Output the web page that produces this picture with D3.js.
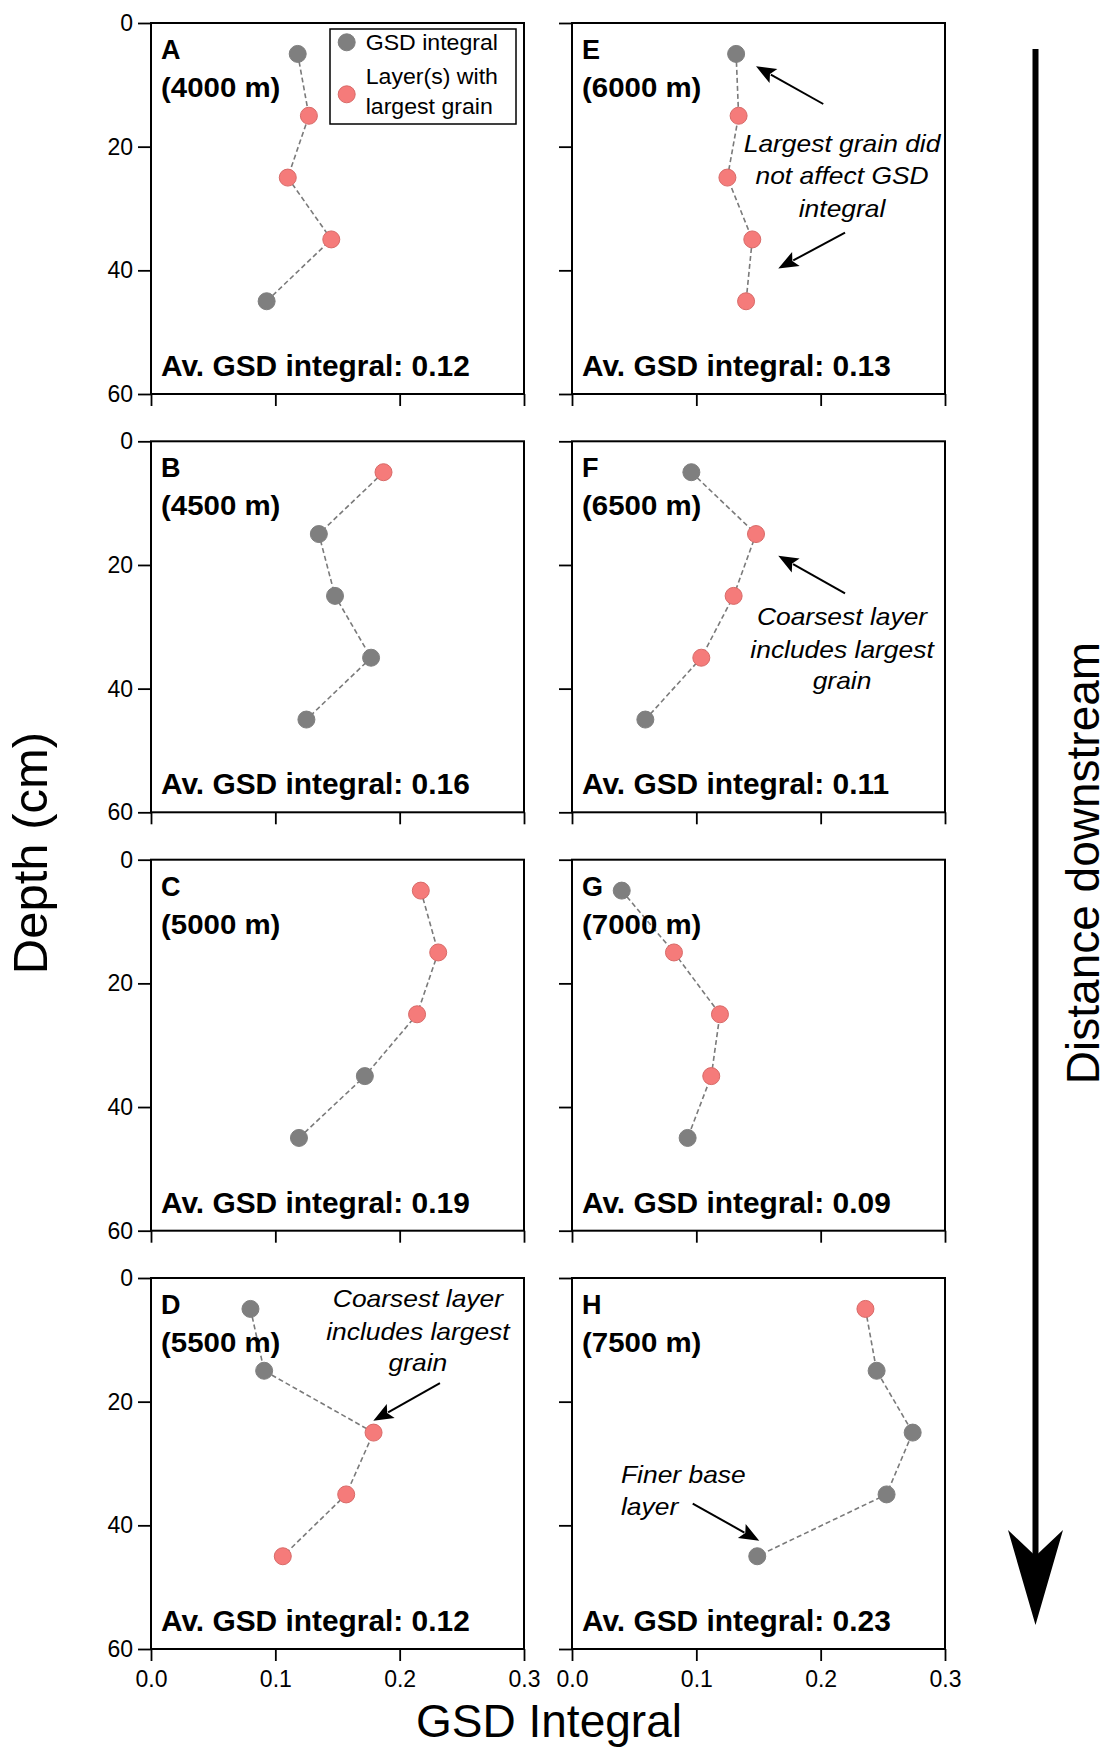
<!DOCTYPE html>
<html><head><meta charset="utf-8">
<script src="https://cdn.jsdelivr.net/npm/d3@7"></script>
<style>
body{margin:0;background:#fff}
svg text{font-family:"Liberation Sans",Arial,Helvetica,sans-serif;fill:#000}
</style>
</head><body>
<svg id="chart" width="1110" height="1749"></svg>
<script>
// ---------- DATA ----------
const panelIds   = ["A","B","C","D","E","F","G","H"];
const distances  = ["(4000 m)","(4500 m)","(5000 m)","(5500 m)","(6000 m)","(6500 m)","(7000 m)","(7500 m)"];
const depths     = [5,15,25,35,45];
const gsdA = [0.118,0.127,0.110,0.145,0.093];
const gsdB = [0.187,0.135,0.148,0.177,0.125];
const gsdC = [0.217,0.231,0.214,0.172,0.119];
const gsdD = [0.080,0.091,0.179,0.157,0.106];
const gsdE = [0.132,0.134,0.125,0.145,0.140];
const gsdF = [0.096,0.148,0.130,0.104,0.059];
const gsdG = [0.040,0.082,0.119,0.112,0.093];
const gsdH = [0.236,0.245,0.274,0.253,0.149];
const largestA = [0,1,1,1,0];
const largestB = [1,0,0,0,0];
const largestC = [1,1,1,0,0];
const largestD = [0,0,1,1,1];
const largestE = [0,1,1,1,1];
const largestF = [0,1,1,1,0];
const largestG = [0,1,1,1,0];
const largestH = [1,0,0,0,0];
const avgGSD = ["0.12","0.16","0.19","0.12","0.13","0.11","0.09","0.23"];
const xTicks = [0,0.1,0.2,0.3];
const yTicks = [0,20,40,60];
const legendLabels = [["GSD integral"],["Layer(s) with","largest grain"]];
const annoE = ["Largest grain did","not affect GSD","integral"];
const annoF = ["Coarsest layer","includes largest","grain"];
const annoD = ["Coarsest layer","includes largest","grain"];
const annoH = ["Finer base","layer"];
const xTitle = "GSD Integral";
const yTitle = "Depth (cm)";
const sideTitle = "Distance downstream";

const gsdSeries = [gsdA,gsdB,gsdC,gsdD,gsdE,gsdF,gsdG,gsdH];
const largestSeries = [largestA,largestB,largestC,largestD,largestE,largestF,largestG,largestH];

// ---------- LAYOUT ----------
const svg = d3.select("#chart");
const colX = [151, 572];
const rowY = [23, 441.3, 859.7, 1278];
const pw = 373, ph = 371;
const GREY = "#7f7f7f", RED = "#f57b7a", RED_STROKE = "#d86a68";
const x = d3.scaleLinear().domain([0,0.3]).range([0,pw]);
const y = d3.scaleLinear().domain([0,60]).range([0,ph]);

function stretch(sel, sx){
  sel.each(function(){
    const w = this.getComputedTextLength();
    d3.select(this).attr("textLength", w*sx).attr("lengthAdjust","spacingAndGlyphs");
  });
}
function arrow(g, x1, y1, x2, y2, len, hw, sw){
  const dx = x2-x1, dy = y2-y1, L = Math.hypot(dx,dy);
  const ux = dx/L, uy = dy/L;
  const bx = x2-ux*len, by = y2-uy*len;
  g.append("line").attr("x1",x1).attr("y1",y1).attr("x2",bx+ux*3).attr("y2",by+uy*3)
    .attr("stroke","#000").attr("stroke-width",sw);
  g.append("path")
    .attr("d",`M${x2},${y2}L${bx-uy*hw},${by+ux*hw}L${bx+ux*4},${by+uy*4}L${bx+uy*hw},${by-ux*hw}Z`)
    .attr("fill","#000");
}

// annotation layout (data units: GSD, depth)
const annoLayout = {
  4: {lines: annoE, anchor:"middle", tx:0.2172, ty:[20.8,26.0,31.3],
      arrows:[[0.2021,13.1,0.148,7.0],[0.2196,33.9,0.1659,39.7]]},
  5: {lines: annoF, anchor:"middle", tx:0.2172, ty:[29.7,35.1,40.0],
      arrows:[[0.2196,24.6,0.1659,18.5]]},
  3: {lines: annoD, anchor:"middle", tx:0.2147, ty:[4.7,10.0,15.1],
      arrows:[[0.2324,17.0,0.1788,23.1]]},
  7: {lines: annoH, anchor:"start", tx:0.0394, ty:[33.2,38.3],
      arrows:[[0.0971,36.5,0.1506,42.5]]}
};

panelIds.forEach((id, i) => {
  const col = i < 4 ? 0 : 1, row = i % 4;
  const g = svg.append("g").attr("transform", `translate(${colX[col]},${rowY[row]})`);

  // axes
  const ya = d3.axisLeft(y).tickValues(yTicks).tickSize(13).tickPadding(5);
  if (col === 1) ya.tickFormat("");
  const yg = g.append("g").call(ya);
  const xa = d3.axisBottom(x).tickValues(xTicks).tickSize(12).tickPadding(10).tickFormat(d3.format(".1f"));
  if (row !== 3) xa.tickFormat("");
  const xg = g.append("g").attr("transform",`translate(0,${ph})`).call(xa);
  [yg,xg].forEach(a => {
    a.select(".domain").remove();
    a.selectAll(".tick line").attr("stroke","#000").attr("stroke-width",1.8);
    a.selectAll(".tick text").attr("font-size",23).attr("fill","#000")
      .style("font-family",'"Liberation Sans",Arial,sans-serif');
  });

  g.append("rect").attr("x",0).attr("y",0).attr("width",pw).attr("height",ph)
    .attr("fill","none").attr("stroke","#000").attr("stroke-width",2);

  // data
  const pts = depths.map((d,k) => ({d, v: gsdSeries[i][k], big: largestSeries[i][k]}));
  g.append("path").datum(pts)
    .attr("d", d3.line().x(p => x(p.v)).y(p => y(p.d)))
    .attr("fill","none").attr("stroke","#7a7a7a").attr("stroke-width",1.6)
    .attr("stroke-dasharray","5,3");
  g.selectAll("circle.pt").data(pts).enter().append("circle").attr("class","pt")
    .attr("cx", p => x(p.v)).attr("cy", p => y(p.d)).attr("r", 8.5)
    .attr("fill", p => p.big ? RED : GREY)
    .attr("stroke", p => p.big ? RED_STROKE : GREY).attr("stroke-width",1);

  // labels
  const l1 = g.append("text").attr("x",10).attr("y",36).attr("font-size",27).attr("font-weight","bold").text(id);
  const l2 = g.append("text").attr("x",10).attr("y",74).attr("font-size",27).attr("font-weight","bold").text(distances[i]);
  stretch(l2,1.09);
  const av = g.append("text").attr("x",10).attr("y",ph-18).attr("font-size",29).attr("font-weight","bold")
    .text("Av. GSD integral: " + avgGSD[i]);
  stretch(av,1.03);

  // annotations
  const an = annoLayout[i];
  if (an) {
    an.lines.forEach((t,k) => {
      const tt = g.append("text").attr("x",x(an.tx)).attr("y",y(an.ty[k])).attr("text-anchor",an.anchor)
        .attr("font-size",24).attr("font-style","italic").text(t);
      stretch(tt,1.1);
    });
    an.arrows.forEach(a => arrow(g, x(a[0]), y(a[1]), x(a[2]), y(a[3]), 20, 8, 2));
  }

  // legend in panel A
  if (i === 0) {
    const lg = g.append("g").attr("transform",`translate(${pw-194},6)`);
    lg.append("rect").attr("width",186).attr("height",95).attr("fill","#fff").attr("stroke","#000").attr("stroke-width",1.5);
    lg.append("circle").attr("cx",16.7).attr("cy",13.3).attr("r",8.5).attr("fill",GREY).attr("stroke",GREY);
    lg.append("circle").attr("cx",16.7).attr("cy",65.3).attr("r",8.5).attr("fill",RED).attr("stroke",RED_STROKE);
    const lt1 = lg.append("text").attr("x",35.7).attr("y",20.5).attr("font-size",22).text(legendLabels[0][0]);
    const lt2 = lg.append("text").attr("x",35.7).attr("y",55).attr("font-size",22).text(legendLabels[1][0]);
    const lt3 = lg.append("text").attr("x",35.7).attr("y",84.5).attr("font-size",22).text(legendLabels[1][1]);
    [lt1,lt2,lt3].forEach(t => stretch(t,1.05));
  }
});

// titles
svg.append("text").attr("x",549).attr("y",1737).attr("text-anchor","middle").attr("font-size",46).text(xTitle);
svg.append("text").attr("transform","translate(47,853) rotate(-90)").attr("text-anchor","middle").attr("font-size",49).text(yTitle);
svg.append("text").attr("transform","translate(1099,863) rotate(-90)").attr("text-anchor","middle").attr("font-size",46).text(sideTitle);

// big downstream arrow
const ba = svg.append("g");
ba.append("line").attr("x1",1035.5).attr("y1",49).attr("x2",1035.5).attr("y2",1560)
  .attr("stroke","#000").attr("stroke-width",6);
ba.append("path").attr("d","M1008,1530L1035.5,1556L1063,1530L1035.5,1625Z").attr("fill","#000");
</script>
</body></html>
